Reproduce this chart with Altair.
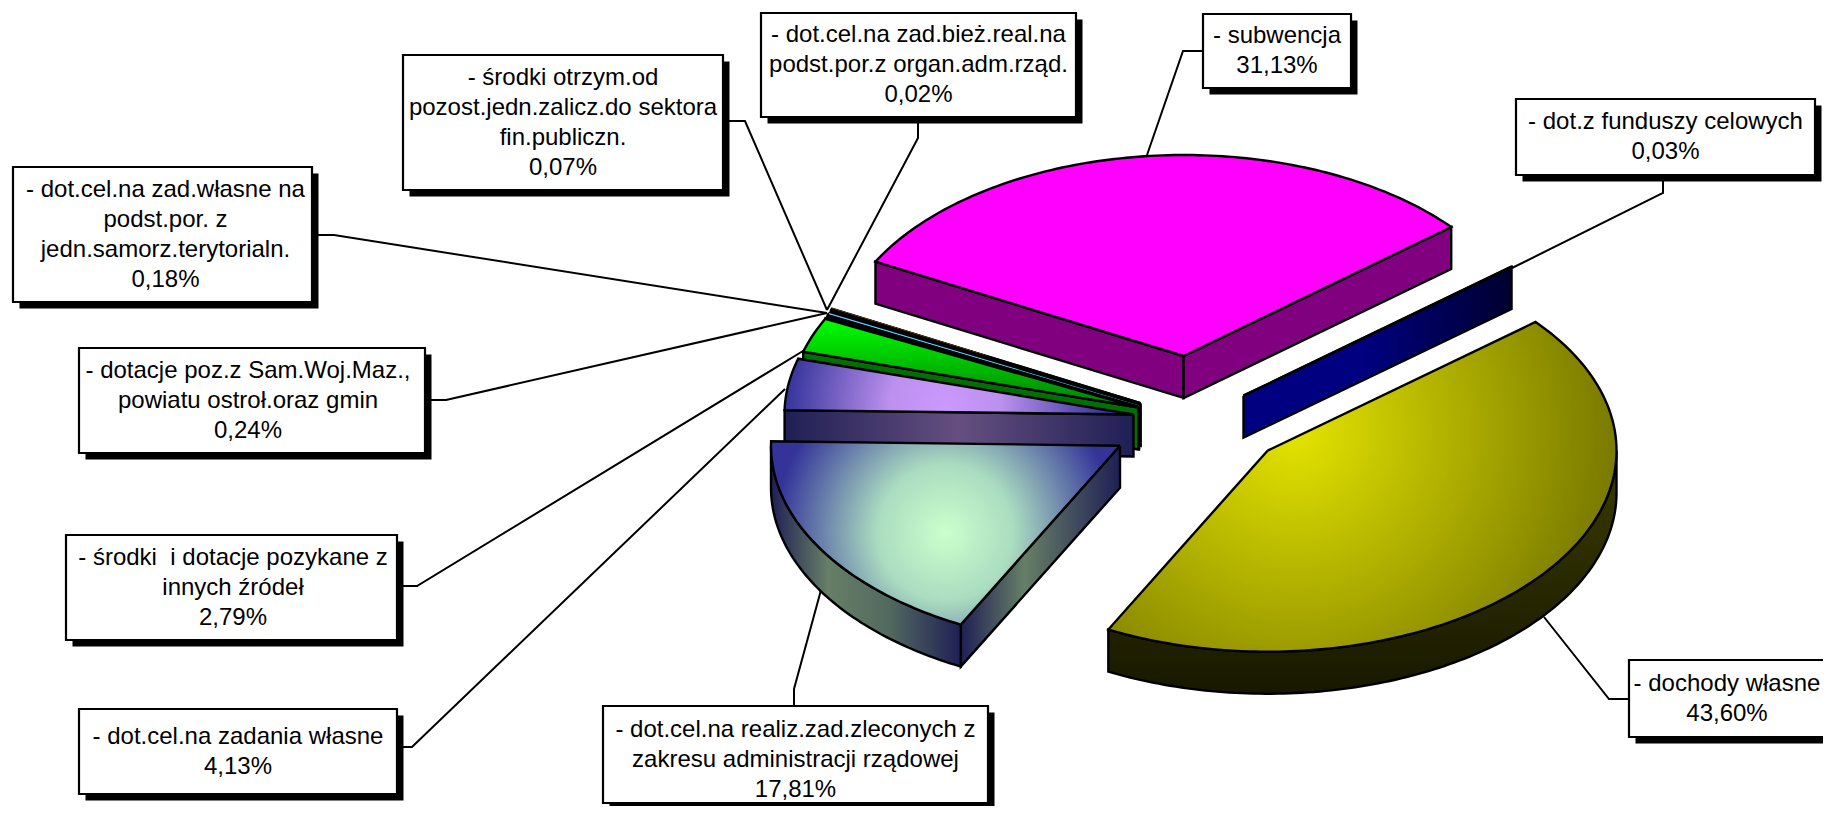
import math
import altair as alt
import pandas as pd

names = ["subwencja", "fundusze", "dochody", "zlecone", "wlasne", "inne", "poz", "samorz", "sektor", "organ"]
shares = [31.13, 0.03, 43.60, 17.81, 4.13, 2.79, 0.24, 0.18, 0.07, 0.02]
start_angle = -152.0
rx, ry, depth = 349.0, 201.0, 42.0

# where each exploded slice's apex sits on the canvas
apex = {
    "subwencja": (1183.6, 356.0), "fundusze": (1243.5, 395.7), "dochody": (1267.5, 450.7),
    "zlecone": (1120.0, 445.7), "wlasne": (1133.5, 414.5), "inne": (1138.5, 407.5),
    "poz": (1139.0, 407.0), "samorz": (1139.0, 406.0), "sektor": (1140.5, 403.8), "organ": (1140.5, 403.2),
}


def stops_of(*stops):
    return [alt.GradientStop(offset=o, color=c) for o, c in stops]


def lin(*stops, x2=1, y2=0):
    return alt.LinearGradient(gradient="linear", x1=0, y1=0, x2=x2, y2=y2, stops=stops_of(*stops))


def rad(cx, cy, r, *stops):
    return alt.RadialGradient(gradient="radial", x1=cx, y1=cy, x2=cx, y2=cy, r1=0, r2=r, stops=stops_of(*stops))


blue_side = lin((0, "#1f1f55"), (0.3, "#667f66"), (0.62, "#526a60"), (1, "#1f1f55"))
styles = {
    "subwencja": ("#ff00ff", "#800080", "#800080"),
    "fundusze": ("#000080", "#000080", lin((0, "#000080"), (0.45, "#000080"), (1, "#000030"))),
    "dochody": (rad(0.365, 0.39, 0.62, (0, "#e4e400"), (1, "#7c7c00")),
                lin((0, "#3c3c00"), (1, "#181800"), x2=0, y2=1), "#333300"),
    "zlecone": (rad(0.5, 0.5, 0.49, (0, "#ccffcc"), (0.4, "#aadcc0"), (1, "#333399")), blue_side,
                lin((0, "#1f1f55"), (0.4, "#667f66"), (1, "#1f1f55"))),
    "wlasne": (rad(0.46, 0.56, 0.46, (0, "#cc99ff"), (0.35, "#bb90ee"), (1, "#333399")), "#1f1f55",
               lin((0, "#1f1f55"), (0.5, "#664f80"), (1, "#1f1f55"))),
    "inne": (lin((0, "#00ff00"), (1, "#008000"), x2=0, y2=1), "#004000", "#007000"),
    "poz": ("#000040", "#000000", "#002200"),
    "samorz": ("#66ccff", "#000000", "#000000"),
    "sektor": ("#000000", "#000000", "#000000"),
    "organ": ("#ff9900", "#000000", "#000000"),
}
# how far along its radius, from the rim, a sliver's colour stays visible
sliver_reach = {"organ": 0.5, "samorz": 1.0}
draw_order = ["subwencja", "fundusze", "dochody", "organ", "sektor", "samorz", "poz", "inne", "wlasne", "zlecone"]

label_texts = [
    "- dot.cel.na zad.bież.real.na\npodst.por.z organ.adm.rząd.\n0,02%",
    "- środki otrzym.od\npozost.jedn.zalicz.do sektora\nfin.publiczn.\n0,07%",
    "- dot.cel.na zad.własne na\npodst.por. z\njedn.samorz.terytorialn.\n0,18%",
    "- dotacje poz.z Sam.Woj.Maz.,\npowiatu ostroł.oraz gmin\n0,24%",
    "- środki\u00a0 i dotacje pozykane z\ninnych źródeł\n2,79%",
    "- dot.cel.na zadania własne\n4,13%",
    "- dot.cel.na realiz.zad.zleconych z\nzakresu administracji rządowej\n17,81%",
    "- dochody własne\n43,60%",
    "- dot.z funduszy celowych\n0,03%",
    "- subwencja\n31,13%",
]
box_left = [761, 403, 13, 79, 66, 79, 603, 1629, 1516, 1203]
box_right = [1076, 723, 312, 425, 397, 397, 988, 1840, 1815, 1351]
box_top = [13, 55, 167, 348, 535, 709, 706, 660, 99, 14]
box_bottom = [117, 190, 302, 453, 640, 794, 803, 737, 175, 88]
text_x = [918.5, 563, 165.5, 248, 233, 238, 795.5, 1727, 1665.5, 1277]
text_y = [65, 123, 235, 400.5, 587.5, 751.5, 760, 698.5, 137, 51]
leaders = [
    [(918, 117), (918, 138), (827, 310)],
    [(723, 121), (745, 121), (827, 310)],
    [(312, 235), (334, 235), (827, 313)],
    [(425, 400), (446, 400), (827, 313)],
    [(397, 586), (417, 586), (803, 351)],
    [(397, 747), (412, 747), (785, 389)],
    [(794, 706), (794, 689), (821, 590)],
    [(1629, 699), (1609, 699), (1544, 617)],
    [(1663, 175), (1663, 193), (1512, 268)],
    [(1203, 51), (1183, 51), (1147, 155)],
]
line_step = 30.0
shadow = 6.5

x_scale = alt.Scale(domain=[8, 1823], range=[0, 1815], nice=False, zero=False)
y_scale = alt.Scale(domain=[8, 806], range=[0, 798], nice=False, zero=False)
X = alt.X("x:Q", scale=x_scale, axis=None)
Y = alt.Y("y:Q", scale=y_scale, axis=None)
X2 = alt.X2("x2:Q")
Y2 = alt.Y2("y2:Q")

# angular extent of each slice from its share
spans = {}
t = start_angle
for n, s in zip(names, shares):
    spans[n] = (t, t + s * 3.6)
    t += s * 3.6


def pt(n, a):
    cx, cy = apex[n]
    r = math.radians(a)
    return cx + rx * math.cos(r), cy + ry * math.sin(r)


def arc_pts(n, a0, a1):
    steps = max(2, int(abs(a1 - a0)) + 2)
    return [pt(n, a0 + (a1 - a0) * k / (steps - 1)) for k in range(steps)]


def poly(points, fill, width=2.4):
    pts = list(points) + [points[0]]
    df = pd.DataFrame({"i": range(len(pts)), "x": [p[0] for p in pts], "y": [p[1] for p in pts]})
    return alt.Chart(df).mark_line(fill=fill, stroke="#000000", strokeWidth=width, strokeJoin="miter").encode(
        x=X, y=Y, order="i:Q")


layers = []

# leader lines lie beneath the pie
for seg in leaders:
    df = pd.DataFrame({"i": range(len(seg)), "x": [p[0] for p in seg], "y": [p[1] for p in seg]})
    layers.append(alt.Chart(df).mark_line(color="#000000", strokeWidth=2).encode(x=X, y=Y, order="i:Q"))

for n in draw_order:
    a0, a1 = spans[n]
    top, wall, cut = styles[n]
    c = apex[n]
    down = lambda p: (p[0], p[1] + depth)
    if math.cos(math.radians(a0)) < 0:
        p = pt(n, a0)
        layers.append(poly([c, p, down(p), down(c)], cut))
    if math.cos(math.radians(a1)) > 0:
        p = pt(n, a1)
        layers.append(poly([c, p, down(p), down(c)], cut))
    w0, w1 = max(a0, 0), min(a1, 180)
    if w1 > w0:
        upper = arc_pts(n, w0, w1)
        layers.append(poly(upper + [down(p) for p in reversed(upper)], wall))
    layers.append(poly([c] + arc_pts(n, a0, a1), top))
    if n in sliver_reach:
        # a sliver is thinner than its outline, so its colour runs along its middle
        rim = pt(n, (a0 + a1) / 2)
        reach = sliver_reach[n]
        seg = [rim, (rim[0] + (c[0] - rim[0]) * reach, rim[1] + (c[1] - rim[1]) * reach)]
        df = pd.DataFrame({"i": [0, 1], "x": [p[0] for p in seg], "y": [p[1] for p in seg]})
        layers.append(alt.Chart(df).mark_line(color=top, strokeWidth=1.2).encode(x=X, y=Y, order="i:Q"))

boxes = pd.DataFrame({
    "x": box_left, "x2": box_right, "y": box_top, "y2": box_bottom,
    "sx": [v + shadow for v in box_left], "sx2": [v + shadow for v in box_right],
    "sy": [v + shadow for v in box_top], "sy2": [v + shadow for v in box_bottom],
})
rows = []
for text, tx, ty in zip(label_texts, text_x, text_y):
    lines = text.split("\n")
    for k, line in enumerate(lines):
        rows.append({"x": tx, "y": ty + (k - (len(lines) - 1) / 2) * line_step, "line": line})
text_rows = pd.DataFrame(rows)

layers.append(alt.Chart(boxes).mark_rect(color="#000000").encode(
    x=alt.X("sx:Q", scale=x_scale, axis=None), x2="sx2:Q",
    y=alt.Y("sy:Q", scale=y_scale, axis=None), y2="sy2:Q"))
layers.append(alt.Chart(boxes).mark_rect(fill="#ffffff", stroke="#000000", strokeWidth=2.2).encode(
    x=X, x2=X2, y=Y, y2=Y2))
layers.append(alt.Chart(text_rows).mark_text(
    font="Liberation Sans", fontSize=24, align="center", baseline="middle", color="#000000").encode(
    x=X, y=Y, text="line:N"))

chart = alt.layer(*layers).properties(
    width=1815, height=798, padding=0, background="#ffffff"
).configure_view(stroke=None, clip=True)

chart.save("out.html", embed_options={"renderer": "svg", "actions": False})
